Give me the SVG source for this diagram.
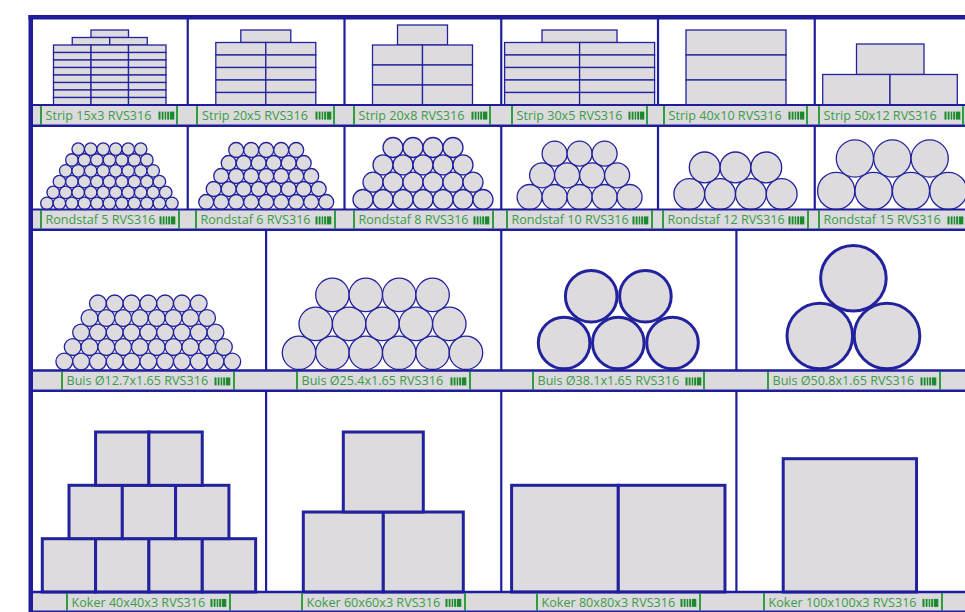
<svg xmlns="http://www.w3.org/2000/svg" xmlns:xlink="http://www.w3.org/1999/xlink" width="965" height="612" viewBox="0 0 965 612">
<style>
.ln{stroke:#1e1e9c;fill:none}
.sh{fill:#dddbdd;stroke:#22229e;stroke-width:1.3}
.thk{stroke-width:3}
.bar{fill:#dcdadc}
.gl{stroke:#2f9e41;stroke-width:2}
.lt{font-family:"Open Sans","Noto Sans","DejaVu Sans",sans-serif;font-size:12.6px;fill:#3a9d4a;stroke:none}
.bc{fill:#1a8a2c;stroke:none}
</style>
<defs>
<g id="bc" class="bc"><rect x="0" y="0" width="2" height="8"/><rect x="3.2" y="0" width="1.8" height="8"/><rect x="6.2" y="0" width="1.5" height="8"/><rect x="8.7" y="0" width="2" height="8"/><rect x="11.5" y="0" width="4.3" height="8"/></g>
</defs>
<rect width="965" height="612" fill="#ffffff"/>
<g id="shelf-bars">
<rect class="bar" x="33" y="105" width="932" height="21"/>
<rect class="bar" x="33" y="209.5" width="932" height="20.5"/>
<rect class="bar" x="33" y="370.5" width="932" height="20.5"/>
<rect class="bar" x="33" y="592" width="932" height="20"/>
</g>

<g id="strip-15x3" class="sh">
<rect x="91" y="30" width="37.5" height="7.5"/>
<rect x="72.25" y="37.5" width="37.5" height="7.5"/><rect x="109.75" y="37.5" width="37.5" height="7.5"/>
<rect x="53.5" y="45" width="37.5" height="7.5"/><rect x="91" y="45" width="37.5" height="7.5"/><rect x="128.5" y="45" width="37.5" height="7.5"/>
<rect x="53.5" y="52.5" width="37.5" height="7.5"/><rect x="91" y="52.5" width="37.5" height="7.5"/><rect x="128.5" y="52.5" width="37.5" height="7.5"/>
<rect x="53.5" y="60" width="37.5" height="7.5"/><rect x="91" y="60" width="37.5" height="7.5"/><rect x="128.5" y="60" width="37.5" height="7.5"/>
<rect x="53.5" y="67.5" width="37.5" height="7.5"/><rect x="91" y="67.5" width="37.5" height="7.5"/><rect x="128.5" y="67.5" width="37.5" height="7.5"/>
<rect x="53.5" y="75" width="37.5" height="7.5"/><rect x="91" y="75" width="37.5" height="7.5"/><rect x="128.5" y="75" width="37.5" height="7.5"/>
<rect x="53.5" y="82.5" width="37.5" height="7.5"/><rect x="91" y="82.5" width="37.5" height="7.5"/><rect x="128.5" y="82.5" width="37.5" height="7.5"/>
<rect x="53.5" y="90" width="37.5" height="7.5"/><rect x="91" y="90" width="37.5" height="7.5"/><rect x="128.5" y="90" width="37.5" height="7.5"/>
<rect x="53.5" y="97.5" width="37.5" height="7.5"/><rect x="91" y="97.5" width="37.5" height="7.5"/><rect x="128.5" y="97.5" width="37.5" height="7.5"/>
<g><line class="gl" x1="41" y1="106" x2="41" y2="124.5"/><line class="gl" x1="177" y1="106" x2="177" y2="124.5"/><text class="lt" x="45.5" y="119.5">Strip 15x3 RVS316</text><use xlink:href="#bc" x="158.5" y="111.6"/></g>
</g>

<g id="strip-20x5" class="sh">
<rect x="240.8" y="30" width="50" height="12.5"/>
<rect x="215.8" y="42.5" width="50" height="12.5"/><rect x="265.8" y="42.5" width="50" height="12.5"/>
<rect x="215.8" y="55" width="50" height="12.5"/><rect x="265.8" y="55" width="50" height="12.5"/>
<rect x="215.8" y="67.5" width="50" height="12.5"/><rect x="265.8" y="67.5" width="50" height="12.5"/>
<rect x="215.8" y="80" width="50" height="12.5"/><rect x="265.8" y="80" width="50" height="12.5"/>
<rect x="215.8" y="92.5" width="50" height="12.5"/><rect x="265.8" y="92.5" width="50" height="12.5"/>
<g><line class="gl" x1="197" y1="106" x2="197" y2="124.5"/><line class="gl" x1="334" y1="106" x2="334" y2="124.5"/><text class="lt" x="202" y="119.5">Strip 20x5 RVS316</text><use xlink:href="#bc" x="315.5" y="111.6"/></g>
</g>

<g id="strip-20x8" class="sh">
<rect x="397.5" y="25" width="50" height="20"/>
<rect x="372.5" y="45" width="50" height="20"/><rect x="422.5" y="45" width="50" height="20"/>
<rect x="372.5" y="65" width="50" height="20"/><rect x="422.5" y="65" width="50" height="20"/>
<rect x="372.5" y="85" width="50" height="20"/><rect x="422.5" y="85" width="50" height="20"/>
<g><line class="gl" x1="354" y1="106" x2="354" y2="124.5"/><line class="gl" x1="490" y1="106" x2="490" y2="124.5"/><text class="lt" x="358.5" y="119.5">Strip 20x8 RVS316</text><use xlink:href="#bc" x="471.5" y="111.6"/></g>
</g>

<g id="strip-30x5" class="sh">
<rect x="542" y="30" width="75" height="12.5"/>
<rect x="504.6" y="42.5" width="75" height="12.5"/><rect x="579.6" y="42.5" width="75" height="12.5"/>
<rect x="504.6" y="55" width="75" height="12.5"/><rect x="579.6" y="55" width="75" height="12.5"/>
<rect x="504.6" y="67.5" width="75" height="12.5"/><rect x="579.6" y="67.5" width="75" height="12.5"/>
<rect x="504.6" y="80" width="75" height="12.5"/><rect x="579.6" y="80" width="75" height="12.5"/>
<rect x="504.6" y="92.5" width="75" height="12.5"/><rect x="579.6" y="92.5" width="75" height="12.5"/>
<g><line class="gl" x1="512" y1="106" x2="512" y2="124.5"/><line class="gl" x1="647" y1="106" x2="647" y2="124.5"/><text class="lt" x="516.5" y="119.5">Strip 30x5 RVS316</text><use xlink:href="#bc" x="628.5" y="111.6"/></g>
</g>

<g id="strip-40x10" class="sh">
<rect x="686" y="30" width="100" height="25"/>
<rect x="686" y="55" width="100" height="25"/>
<rect x="686" y="80" width="100" height="25"/>
<g><line class="gl" x1="664" y1="106" x2="664" y2="124.5"/><line class="gl" x1="807" y1="106" x2="807" y2="124.5"/><text class="lt" x="668.5" y="119.5">Strip 40x10 RVS316</text><use xlink:href="#bc" x="788.5" y="111.6"/></g>
</g>

<g id="strip-50x12" class="sh">
<rect x="856.5" y="44" width="67.5" height="30.5"/>
<rect x="822.7" y="74.5" width="67.3" height="30.5"/><rect x="890" y="74.5" width="67.3" height="30.5"/>
<g><line class="gl" x1="819" y1="106" x2="819" y2="124.5"/><line class="gl" x1="963" y1="106" x2="963" y2="124.5"/><text class="lt" x="823.5" y="119.5">Strip 50x12 RVS316</text><use xlink:href="#bc" x="944.5" y="111.6"/></g>
</g>

<g id="rondstaf-5" class="sh">
<g>
<circle cx="46.9" cy="203.3" r="6.25"/><circle cx="59.4" cy="203.3" r="6.25"/><circle cx="71.9" cy="203.3" r="6.25"/><circle cx="84.4" cy="203.3" r="6.25"/><circle cx="96.9" cy="203.3" r="6.25"/><circle cx="109.4" cy="203.3" r="6.25"/><circle cx="121.9" cy="203.3" r="6.25"/><circle cx="134.4" cy="203.3" r="6.25"/><circle cx="146.9" cy="203.3" r="6.25"/><circle cx="159.4" cy="203.3" r="6.25"/><circle cx="171.9" cy="203.3" r="6.25"/>
<circle cx="53.2" cy="192.4" r="6.25"/><circle cx="65.7" cy="192.4" r="6.25"/><circle cx="78.2" cy="192.4" r="6.25"/><circle cx="90.7" cy="192.4" r="6.25"/><circle cx="103.2" cy="192.4" r="6.25"/><circle cx="115.7" cy="192.4" r="6.25"/><circle cx="128.2" cy="192.4" r="6.25"/><circle cx="140.7" cy="192.4" r="6.25"/><circle cx="153.2" cy="192.4" r="6.25"/><circle cx="165.7" cy="192.4" r="6.25"/>
<circle cx="59.4" cy="181.6" r="6.25"/><circle cx="71.9" cy="181.6" r="6.25"/><circle cx="84.4" cy="181.6" r="6.25"/><circle cx="96.9" cy="181.6" r="6.25"/><circle cx="109.4" cy="181.6" r="6.25"/><circle cx="121.9" cy="181.6" r="6.25"/><circle cx="134.4" cy="181.6" r="6.25"/><circle cx="146.9" cy="181.6" r="6.25"/><circle cx="159.4" cy="181.6" r="6.25"/>
<circle cx="65.7" cy="170.8" r="6.25"/><circle cx="78.2" cy="170.8" r="6.25"/><circle cx="90.7" cy="170.8" r="6.25"/><circle cx="103.2" cy="170.8" r="6.25"/><circle cx="115.7" cy="170.8" r="6.25"/><circle cx="128.2" cy="170.8" r="6.25"/><circle cx="140.7" cy="170.8" r="6.25"/><circle cx="153.2" cy="170.8" r="6.25"/>
<circle cx="71.9" cy="160" r="6.25"/><circle cx="84.4" cy="160" r="6.25"/><circle cx="96.9" cy="160" r="6.25"/><circle cx="109.4" cy="160" r="6.25"/><circle cx="121.9" cy="160" r="6.25"/><circle cx="134.4" cy="160" r="6.25"/><circle cx="146.9" cy="160" r="6.25"/>
<circle cx="78.2" cy="149.1" r="6.25"/><circle cx="90.7" cy="149.1" r="6.25"/><circle cx="103.2" cy="149.1" r="6.25"/><circle cx="115.7" cy="149.1" r="6.25"/><circle cx="128.2" cy="149.1" r="6.25"/><circle cx="140.7" cy="149.1" r="6.25"/>
</g>
<g><line class="gl" x1="41" y1="210.5" x2="41" y2="228.5"/><line class="gl" x1="179" y1="210.5" x2="179" y2="228.5"/><text class="lt" x="45.5" y="224.3">Rondstaf 5 RVS316</text><use xlink:href="#bc" x="159.5" y="216.4"/></g>
</g>

<g id="rondstaf-6" class="sh">
<g>
<circle cx="206.2" cy="202" r="7.5"/><circle cx="221.2" cy="202" r="7.5"/><circle cx="236.2" cy="202" r="7.5"/><circle cx="251.2" cy="202" r="7.5"/><circle cx="266.2" cy="202" r="7.5"/><circle cx="281.2" cy="202" r="7.5"/><circle cx="296.2" cy="202" r="7.5"/><circle cx="311.2" cy="202" r="7.5"/><circle cx="326.2" cy="202" r="7.5"/>
<circle cx="213.7" cy="189" r="7.5"/><circle cx="228.7" cy="189" r="7.5"/><circle cx="243.7" cy="189" r="7.5"/><circle cx="258.7" cy="189" r="7.5"/><circle cx="273.7" cy="189" r="7.5"/><circle cx="288.7" cy="189" r="7.5"/><circle cx="303.7" cy="189" r="7.5"/><circle cx="318.7" cy="189" r="7.5"/>
<circle cx="221.2" cy="176" r="7.5"/><circle cx="236.2" cy="176" r="7.5"/><circle cx="251.2" cy="176" r="7.5"/><circle cx="266.2" cy="176" r="7.5"/><circle cx="281.2" cy="176" r="7.5"/><circle cx="296.2" cy="176" r="7.5"/><circle cx="311.2" cy="176" r="7.5"/>
<circle cx="228.7" cy="163" r="7.5"/><circle cx="243.7" cy="163" r="7.5"/><circle cx="258.7" cy="163" r="7.5"/><circle cx="273.7" cy="163" r="7.5"/><circle cx="288.7" cy="163" r="7.5"/><circle cx="303.7" cy="163" r="7.5"/>
<circle cx="236.2" cy="150" r="7.5"/><circle cx="251.2" cy="150" r="7.5"/><circle cx="266.2" cy="150" r="7.5"/><circle cx="281.2" cy="150" r="7.5"/><circle cx="296.2" cy="150" r="7.5"/>
</g>
<g><line class="gl" x1="196" y1="210.5" x2="196" y2="228.5"/><line class="gl" x1="335" y1="210.5" x2="335" y2="228.5"/><text class="lt" x="200.5" y="224.3">Rondstaf 6 RVS316</text><use xlink:href="#bc" x="315.5" y="216.4"/></g>
</g>

<g id="rondstaf-8" class="sh">
<g>
<circle cx="363" cy="199.5" r="10"/><circle cx="383" cy="199.5" r="10"/><circle cx="403" cy="199.5" r="10"/><circle cx="423" cy="199.5" r="10"/><circle cx="443" cy="199.5" r="10"/><circle cx="463" cy="199.5" r="10"/><circle cx="483" cy="199.5" r="10"/>
<circle cx="373" cy="182.2" r="10"/><circle cx="393" cy="182.2" r="10"/><circle cx="413" cy="182.2" r="10"/><circle cx="433" cy="182.2" r="10"/><circle cx="453" cy="182.2" r="10"/><circle cx="473" cy="182.2" r="10"/>
<circle cx="383" cy="164.9" r="10"/><circle cx="403" cy="164.9" r="10"/><circle cx="423" cy="164.9" r="10"/><circle cx="443" cy="164.9" r="10"/><circle cx="463" cy="164.9" r="10"/>
<circle cx="393" cy="147.5" r="10"/><circle cx="413" cy="147.5" r="10"/><circle cx="433" cy="147.5" r="10"/><circle cx="453" cy="147.5" r="10"/>
</g>
<g><line class="gl" x1="354" y1="210.5" x2="354" y2="228.5"/><line class="gl" x1="493" y1="210.5" x2="493" y2="228.5"/><text class="lt" x="358.5" y="224.3">Rondstaf 8 RVS316</text><use xlink:href="#bc" x="473.5" y="216.4"/></g>
</g>

<g id="rondstaf-10" class="sh">
<g>
<circle cx="529.6" cy="197" r="12.5"/><circle cx="554.6" cy="197" r="12.5"/><circle cx="579.6" cy="197" r="12.5"/><circle cx="604.6" cy="197" r="12.5"/><circle cx="629.6" cy="197" r="12.5"/>
<circle cx="542.1" cy="175.3" r="12.5"/><circle cx="567.1" cy="175.3" r="12.5"/><circle cx="592.1" cy="175.3" r="12.5"/><circle cx="617.1" cy="175.3" r="12.5"/>
<circle cx="554.6" cy="153.7" r="12.5"/><circle cx="579.6" cy="153.7" r="12.5"/><circle cx="604.6" cy="153.7" r="12.5"/>
</g>
<g><line class="gl" x1="507" y1="210.5" x2="507" y2="228.5"/><line class="gl" x1="652" y1="210.5" x2="652" y2="228.5"/><text class="lt" x="511.5" y="224.3">Rondstaf 10 RVS316</text><use xlink:href="#bc" x="632.5" y="216.4"/></g>
</g>

<g id="rondstaf-12" class="sh">
<g>
<circle cx="689.3" cy="194.1" r="15.4"/><circle cx="720.1" cy="194.1" r="15.4"/><circle cx="750.9" cy="194.1" r="15.4"/><circle cx="781.7" cy="194.1" r="15.4"/>
<circle cx="704.7" cy="167.4" r="15.4"/><circle cx="735.5" cy="167.4" r="15.4"/><circle cx="766.3" cy="167.4" r="15.4"/>
</g>
<g><line class="gl" x1="663" y1="210.5" x2="663" y2="228.5"/><line class="gl" x1="808" y1="210.5" x2="808" y2="228.5"/><text class="lt" x="667.5" y="224.3">Rondstaf 12 RVS316</text><use xlink:href="#bc" x="788.5" y="216.4"/></g>
</g>

<g id="rondstaf-15" class="sh">
<g>
<circle cx="836.2" cy="190.9" r="18.6"/><circle cx="873.6" cy="190.9" r="18.6"/><circle cx="911" cy="190.9" r="18.6"/><circle cx="948.4" cy="190.9" r="18.6"/>
<circle cx="854.9" cy="158.5" r="18.6"/><circle cx="892.3" cy="158.5" r="18.6"/><circle cx="929.7" cy="158.5" r="18.6"/>
</g>
<g><line class="gl" x1="819" y1="210.5" x2="819" y2="228.5"/><line class="gl" x1="966" y1="210.5" x2="966" y2="228.5"/><text class="lt" x="823.5" y="224.3">Rondstaf 15 RVS316</text><use xlink:href="#bc" x="947.5" y="216.4"/></g>
</g>

<g id="buis-12-7" class="sh">
<g>
<circle cx="64.3" cy="361.6" r="8.4"/><circle cx="81.1" cy="361.6" r="8.4"/><circle cx="97.9" cy="361.6" r="8.4"/><circle cx="114.7" cy="361.6" r="8.4"/><circle cx="131.5" cy="361.6" r="8.4"/><circle cx="148.3" cy="361.6" r="8.4"/><circle cx="165.1" cy="361.6" r="8.4"/><circle cx="181.9" cy="361.6" r="8.4"/><circle cx="198.7" cy="361.6" r="8.4"/><circle cx="215.5" cy="361.6" r="8.4"/><circle cx="232.3" cy="361.6" r="8.4"/>
<circle cx="72.7" cy="347.1" r="8.4"/><circle cx="89.5" cy="347.1" r="8.4"/><circle cx="106.3" cy="347.1" r="8.4"/><circle cx="123.1" cy="347.1" r="8.4"/><circle cx="139.9" cy="347.1" r="8.4"/><circle cx="156.7" cy="347.1" r="8.4"/><circle cx="173.5" cy="347.1" r="8.4"/><circle cx="190.3" cy="347.1" r="8.4"/><circle cx="207.1" cy="347.1" r="8.4"/><circle cx="223.9" cy="347.1" r="8.4"/>
<circle cx="81.1" cy="332.5" r="8.4"/><circle cx="97.9" cy="332.5" r="8.4"/><circle cx="114.7" cy="332.5" r="8.4"/><circle cx="131.5" cy="332.5" r="8.4"/><circle cx="148.3" cy="332.5" r="8.4"/><circle cx="165.1" cy="332.5" r="8.4"/><circle cx="181.9" cy="332.5" r="8.4"/><circle cx="198.7" cy="332.5" r="8.4"/><circle cx="215.5" cy="332.5" r="8.4"/>
<circle cx="89.5" cy="318" r="8.4"/><circle cx="106.3" cy="318" r="8.4"/><circle cx="123.1" cy="318" r="8.4"/><circle cx="139.9" cy="318" r="8.4"/><circle cx="156.7" cy="318" r="8.4"/><circle cx="173.5" cy="318" r="8.4"/><circle cx="190.3" cy="318" r="8.4"/><circle cx="207.1" cy="318" r="8.4"/>
<circle cx="97.9" cy="303.4" r="8.4"/><circle cx="114.7" cy="303.4" r="8.4"/><circle cx="131.5" cy="303.4" r="8.4"/><circle cx="148.3" cy="303.4" r="8.4"/><circle cx="165.1" cy="303.4" r="8.4"/><circle cx="181.9" cy="303.4" r="8.4"/><circle cx="198.7" cy="303.4" r="8.4"/>
</g>
<g><line class="gl" x1="62" y1="371.8" x2="62" y2="389.5"/><line class="gl" x1="234" y1="371.8" x2="234" y2="389.5"/><text class="lt" x="66.5" y="385.3">Buis Ø12.7x1.65 RVS316</text><use xlink:href="#bc" x="214.5" y="377.4"/></g>
</g>

<g id="buis-25-4" class="sh">
<g>
<circle cx="299" cy="352.8" r="16.7"/><circle cx="332.4" cy="352.8" r="16.7"/><circle cx="365.8" cy="352.8" r="16.7"/><circle cx="399.2" cy="352.8" r="16.7"/><circle cx="432.6" cy="352.8" r="16.7"/><circle cx="466" cy="352.8" r="16.7"/>
<circle cx="315.7" cy="323.9" r="16.7"/><circle cx="349.1" cy="323.9" r="16.7"/><circle cx="382.5" cy="323.9" r="16.7"/><circle cx="415.9" cy="323.9" r="16.7"/><circle cx="449.3" cy="323.9" r="16.7"/>
<circle cx="332.4" cy="294.9" r="16.7"/><circle cx="365.8" cy="294.9" r="16.7"/><circle cx="399.2" cy="294.9" r="16.7"/><circle cx="432.6" cy="294.9" r="16.7"/>
</g>
<g><line class="gl" x1="297" y1="371.8" x2="297" y2="389.5"/><line class="gl" x1="470" y1="371.8" x2="470" y2="389.5"/><text class="lt" x="301.5" y="385.3">Buis Ø25.4x1.65 RVS316</text><use xlink:href="#bc" x="450.5" y="377.4"/></g>
</g>

<g id="buis-38-1" class="sh">
<g class="thk">
<circle cx="564.1" cy="343" r="25.8"/><circle cx="618.3" cy="343" r="25.8"/><circle cx="672.5" cy="343" r="25.8"/>
<circle cx="591.2" cy="296.3" r="25.8"/><circle cx="645.4" cy="296.3" r="25.8"/>
</g>
<g><line class="gl" x1="533" y1="371.8" x2="533" y2="389.5"/><line class="gl" x1="704" y1="371.8" x2="704" y2="389.5"/><text class="lt" x="537.5" y="385.3">Buis Ø38.1x1.65 RVS316</text><use xlink:href="#bc" x="685.5" y="377.4"/></g>
</g>

<g id="buis-50-8" class="sh">
<g class="thk">
<circle cx="819.8" cy="336" r="32.8"/><circle cx="887" cy="336" r="32.8"/>
<circle cx="853.4" cy="278.3" r="32.8"/>
</g>
<g><line class="gl" x1="768" y1="371.8" x2="768" y2="389.5"/><line class="gl" x1="940" y1="371.8" x2="940" y2="389.5"/><text class="lt" x="772.5" y="385.3">Buis Ø50.8x1.65 RVS316</text><use xlink:href="#bc" x="920.5" y="377.4"/></g>
</g>

<g id="koker-40x40x3" class="sh">
<g class="thk">
<rect x="42.3" y="538.7" width="53.33" height="53.33"/><rect x="95.6" y="538.7" width="53.33" height="53.33"/><rect x="148.9" y="538.7" width="53.33" height="53.33"/><rect x="202.3" y="538.7" width="53.33" height="53.33"/>
<rect x="69" y="485.3" width="53.33" height="53.33"/><rect x="122.3" y="485.3" width="53.33" height="53.33"/><rect x="175.6" y="485.3" width="53.33" height="53.33"/>
<rect x="95.6" y="432" width="53.33" height="53.33"/><rect x="148.9" y="432" width="53.33" height="53.33"/>
</g>
<g><line class="gl" x1="67" y1="593.3" x2="67" y2="610.5"/><line class="gl" x1="230" y1="593.3" x2="230" y2="610.5"/><text class="lt" x="71.5" y="606.8">Koker 40x40x3 RVS316</text><use xlink:href="#bc" x="210.5" y="598.9"/></g>
</g>

<g id="koker-60x60x3" class="sh">
<g class="thk">
<rect x="303.3" y="512" width="80" height="80"/><rect x="383.3" y="512" width="80" height="80"/>
<rect x="343.3" y="432" width="80" height="80"/>
</g>
<g><line class="gl" x1="302" y1="593.3" x2="302" y2="610.5"/><line class="gl" x1="465" y1="593.3" x2="465" y2="610.5"/><text class="lt" x="306.5" y="606.8">Koker 60x60x3 RVS316</text><use xlink:href="#bc" x="445.5" y="598.9"/></g>
</g>

<g id="koker-80x80x3" class="sh">
<g class="thk">
<rect x="511.6" y="485.3" width="106.67" height="106.67"/><rect x="618.3" y="485.3" width="106.67" height="106.67"/>
</g>
<g><line class="gl" x1="537" y1="593.3" x2="537" y2="610.5"/><line class="gl" x1="700" y1="593.3" x2="700" y2="610.5"/><text class="lt" x="541.5" y="606.8">Koker 80x80x3 RVS316</text><use xlink:href="#bc" x="680.5" y="598.9"/></g>
</g>

<g id="koker-100x100x3" class="sh">
<g class="thk">
<rect x="783.2" y="458.7" width="133.33" height="133.33"/>
</g>
<g><line class="gl" x1="764" y1="593.3" x2="764" y2="610.5"/><line class="gl" x1="942" y1="593.3" x2="942" y2="610.5"/><text class="lt" x="768.5" y="606.8">Koker 100x100x3 RVS316</text><use xlink:href="#bc" x="922.5" y="598.9"/></g>
</g>

<g id="shelf-lines" class="ln">
<line x1="33" y1="105" x2="965" y2="105" stroke-width="2"/>
<line x1="33" y1="125.75" x2="965" y2="125.75" stroke-width="2.5"/>
<line x1="33" y1="209.5" x2="965" y2="209.5" stroke-width="2"/>
<line x1="33" y1="229.75" x2="965" y2="229.75" stroke-width="2.5"/>
<line x1="33" y1="370.5" x2="965" y2="370.5" stroke-width="2.5"/>
<line x1="33" y1="390.75" x2="965" y2="390.75" stroke-width="2.5"/>
<line x1="33" y1="592" x2="965" y2="592" stroke-width="2.5"/>
<line x1="33" y1="611.25" x2="965" y2="611.25" stroke-width="1.5"/>
<g stroke-width="2.2">
<line x1="187.75" y1="19" x2="187.75" y2="105"/><line x1="344.5" y1="19" x2="344.5" y2="105"/><line x1="501.25" y1="19" x2="501.25" y2="105"/><line x1="658" y1="19" x2="658" y2="105"/><line x1="814.75" y1="19" x2="814.75" y2="105"/>
<line x1="187.75" y1="126" x2="187.75" y2="209.5"/><line x1="344.5" y1="126" x2="344.5" y2="209.5"/><line x1="501.25" y1="126" x2="501.25" y2="209.5"/><line x1="658" y1="126" x2="658" y2="209.5"/><line x1="814.75" y1="126" x2="814.75" y2="209.5"/>
<line x1="266.1" y1="230" x2="266.1" y2="370.5"/><line x1="501.25" y1="230" x2="501.25" y2="370.5"/><line x1="736.4" y1="230" x2="736.4" y2="370.5"/>
<line x1="266.1" y1="391" x2="266.1" y2="592"/><line x1="501.25" y1="391" x2="501.25" y2="592"/><line x1="736.4" y1="391" x2="736.4" y2="592"/>
</g>
<line x1="28.5" y1="17.25" x2="965" y2="17.25" stroke-width="4.5"/>
<line x1="30.75" y1="15" x2="30.75" y2="612" stroke-width="4.5"/>
</g>
</svg>
